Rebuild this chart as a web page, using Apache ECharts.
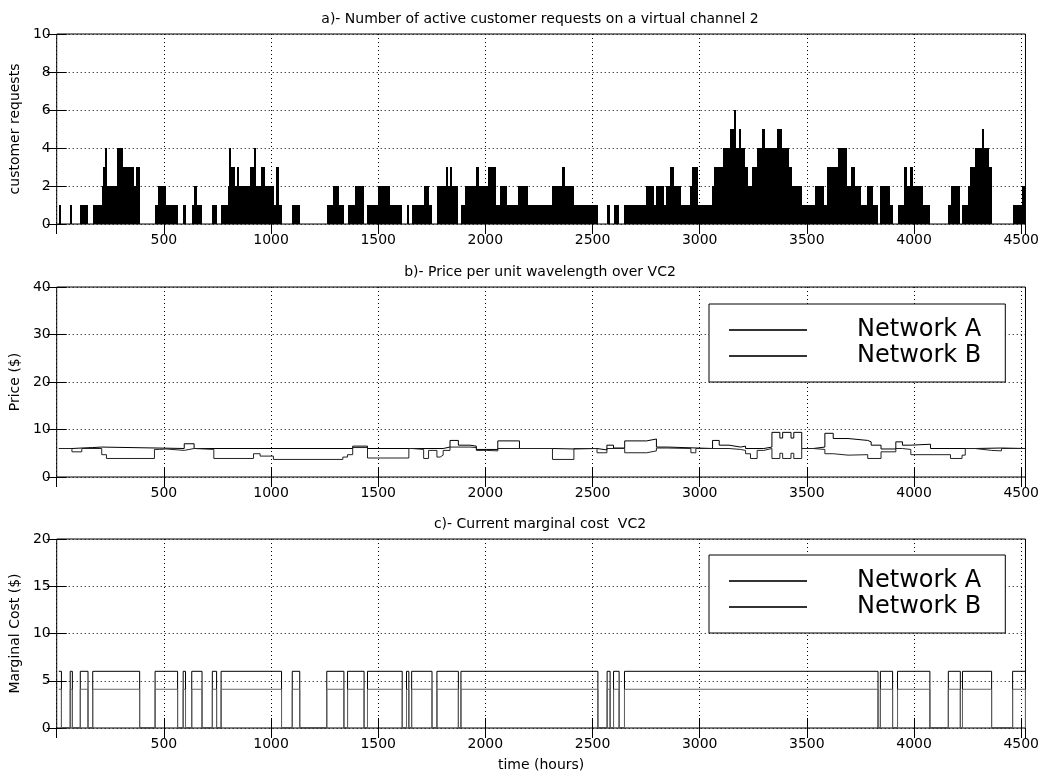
<!DOCTYPE html>
<html>
<head>
<meta charset="utf-8">
<script src="https://cdn.jsdelivr.net/npm/echarts@6/dist/echarts.min.js"></script>
<style>
  html, body { margin: 0; padding: 0; background: #fff; }
  #chart { width: 1042px; height: 773px; }
</style>
</head>
<body>
<div id="chart"></div>
<script>
// ---- data -------------------------------------------------------------
// time axis (hours)
const timeRange = [0, 4520];
const timeStep = 500;

// a) active customer requests on VC2: [hour at which the count changes, new count]
const requestSteps = [
  [10,1],[22,0],[63,1],[73,0],[110,1],[146,0],[168,1],[210,2],[218,3],[226,4],[236,2],[280,4],
  [307,3],[360,2],[369,3],[387,0],[459,1],[471,2],[510,1],[564,0],[590,1],[601,0],[630,1],[641,2],
  [656,1],[678,0],[726,1],[746,0],[767,1],[798,2],[806,4],[815,3],[831,2],[840,3],[852,2],[903,3],
  [921,4],[930,2],[954,3],[972,2],[1014,1],[1023,3],[1036,1],[1049,0],[1099,1],[1134,0],[1260,1],
  [1288,2],[1315,1],[1340,0],[1357,1],[1393,2],[1434,0],[1450,1],[1501,2],[1553,1],[1612,0],[1632,1],
  [1643,0],[1656,1],[1712,2],[1735,1],[1751,0],[1774,2],[1818,3],[1827,2],[1835,3],[1844,2],[1874,0],
  [1886,1],[1907,2],[1958,3],[1969,2],[2012,3],[2051,1],[2066,2],[2102,1],[2154,2],[2200,1],[2313,2],
  [2356,3],[2371,2],[2413,1],[2525,0],[2568,1],[2582,0],[2598,1],[2624,0],[2649,1],[2750,2],[2785,1],
  [2798,2],[2832,1],[2845,2],[2862,3],[2880,2],[2915,1],[2955,2],[2963,3],[2991,1],[3057,2],[3066,3],
  [3111,4],[3142,5],[3158,6],[3168,4],[3183,5],[3192,4],[3210,3],[3225,2],[3245,3],[3268,4],[3291,5],
  [3306,4],[3360,5],[3384,4],[3418,3],[3432,2],[3476,1],[3538,2],[3581,1],[3592,3],[3643,4],[3689,2],
  [3707,3],[3726,2],[3753,1],[3781,2],[3807,1],[3832,0],[3843,2],[3889,1],[3900,0],[3923,1],[3954,3],
  [3969,2],[3982,3],[3997,2],[4043,1],[4074,0],[4160,1],[4172,2],[4216,0],[4226,1],[4250,2],[4259,3],
  [4285,4],[4316,5],[4327,4],[4350,3],[4362,0],[4460,1],[4505,2],[4520,2]
];

// b) price per unit wavelength ($): [hour, new price]
const priceNetworkA = [
  [10,6.0],[71,6.1],[117,6.2],[168,6.3],[210,6.0],[595,7.0],[641,6.0],[1381,6.5],[1450,6.0],
  [1803,6.3],[1835,7.7],[1874,6.7],[1928,6.5],[1958,5.8],[2058,7.6],[2159,6.0],[2313,5.9],[2413,6.0],
  [2521,5.7],[2567,6.7],[2598,6.1],[2650,7.6],[2752,8.0],[2798,6.3],[2851,6.0],[3060,7.7],[3091,6.7],
  [3137,6.3],[3191,6.5],[3214,6.0],[3299,6.3],[3337,9.4],[3374,8.2],[3387,9.4],[3426,8.2],[3439,9.4],
  [3476,6.0],[3530,6.3],[3584,9.2],[3623,8.1],[3692,7.7],[3784,7.4],[3800,6.7],[3846,5.9],[3915,7.4],
  [3946,6.7],[3985,6.9],[4077,6.0],[4285,6.1],[4408,6.0],[4520,6.0]
];
const priceNetworkB = [
  [10,6.0],[71,5.3],[117,6.0],[210,4.7],[232,3.9],[456,5.8],[479,5.9],[510,5.6],[595,6.0],[641,5.8],
  [733,3.9],[918,4.9],[949,4.4],[1011,3.7],[1335,4.2],[1357,4.7],[1381,6.2],[1450,4.0],[1643,6.0],
  [1658,5.8],[1712,3.9],[1735,5.6],[1774,4.2],[1789,4.6],[1803,5.6],[1835,6.3],[1928,6.2],[1958,5.6],
  [2005,5.5],[2058,6.0],[2313,3.7],[2413,6.0],[2521,5.1],[2567,6.0],[2650,5.1],[2752,5.5],[2798,6.1],
  [2851,6.0],[2959,5.1],[2982,6.0],[3137,5.8],[3191,5.6],[3214,4.9],[3237,3.9],[3268,5.6],[3299,6.0],
  [3337,3.9],[3374,5.0],[3387,3.9],[3426,5.0],[3439,3.9],[3476,6.0],[3530,5.8],[3584,4.9],[3623,4.6],
  [3692,4.7],[3784,3.9],[3846,5.3],[3915,6.0],[3946,5.8],[3985,4.7],[4170,3.9],[4224,4.6],[4239,6.0],
  [4285,5.6],[4362,5.5],[4408,6.0],[4520,6.0]
];

// c) marginal cost: periods [from, to] (hours) during which VC2 carries traffic
const costPeriods = [
  [10,22],[63,73],[110,146],[168,387],[459,564],[590,601],[630,678],[726,746],[767,1049],[1099,1134],
  [1260,1340],[1357,1434],[1450,1612],[1632,1643],[1656,1751],[1774,1874],[1886,2525],[2568,2582],
  [2598,2624],[2649,3832],[3843,3900],[3923,4074],[4160,4216],[4226,4362],[4460,4520]
];
const costNetworkA = 6;   // $ while active
const costNetworkB = 4.1; // $ while active

const panelTitles = [
  'a)- Number of active customer requests on a virtual channel 2',
  'b)- Price per unit wavelength over VC2',
  'c)- Current marginal cost  VC2'
];
const yNames = ['customer requests', 'Price ($)', 'Marginal Cost ($)'];
const yScales = [[0, 10, 2], [0, 40, 10], [0, 20, 5]];
const seriesNames = ['Network A', 'Network B'];

// ---- helpers ----------------------------------------------------------
const FONT = 'DejaVu Sans';

function pulses(periods, level) {
  const pts = [];
  periods.forEach(([s, e]) => { pts.push([s, level]); pts.push([e, 0]); });
  return pts;
}

// [from, count, to] blocks for the request histogram
const requestBlocks = requestSteps.slice(0, -1).map(([t, v], i) => [t, v, requestSteps[i + 1][0]]);

const grids = [
  { left: 54, right: 13, top: 34, height: 190 },
  { left: 54, right: 13, top: 287, height: 190 },
  { left: 54, right: 13, top: 539, height: 189 }
].map(g => Object.assign(g, { show: true, borderColor: '#000', borderWidth: 1, backgroundColor: '#fff', containLabel: false }));

const tickStyle = { color: '#000', width: 1 };
const gridDots = { color: '#000', width: 1, type: [1, 3] };
const plain = v => String(v);

const xAxes = [];
const yAxes = [];
grids.forEach((g, i) => {
  xAxes.push({
    type: 'value', gridIndex: i, position: 'bottom',
    min: timeRange[0], max: timeRange[1], interval: timeStep,
    axisLine: { show: false },
    axisTick: { show: true, inside: true, length: 10, lineStyle: tickStyle },
    axisLabel: { show: true, margin: 9, color: '#000', fontSize: 14, fontFamily: FONT,
                 formatter: plain, showMinLabel: false, showMaxLabel: false },
    splitLine: { show: true, lineStyle: gridDots },
    name: i === 2 ? 'time (hours)' : '', nameLocation: 'middle', nameGap: 30,
    nameTextStyle: { color: '#000', fontSize: 14, fontFamily: FONT }
  });
  xAxes.push({
    type: 'value', gridIndex: i, position: 'top',
    min: timeRange[0], max: timeRange[1], interval: timeStep,
    axisLine: { show: false },
    axisTick: { show: true, inside: true, length: 10, lineStyle: tickStyle },
    axisLabel: { show: false },
    splitLine: { show: false }
  });
  const [mn, mx, step] = yScales[i];
  yAxes.push({
    type: 'value', gridIndex: i, position: 'left', min: mn, max: mx, interval: step,
    axisLine: { show: false },
    axisTick: { show: true, inside: true, length: 10, lineStyle: tickStyle },
    axisLabel: { color: '#000', fontSize: 14, fontFamily: FONT, margin: 6, formatter: plain },
    splitLine: { show: true, lineStyle: gridDots },
    name: yNames[i], nameLocation: 'middle', nameGap: 25,
    nameTextStyle: { color: '#000', fontSize: 14, fontFamily: FONT }
  });
  yAxes.push({
    type: 'value', gridIndex: i, position: 'right', min: mn, max: mx, interval: step,
    axisLine: { show: false },
    axisTick: { show: true, inside: true, length: 10, lineStyle: tickStyle },
    axisLabel: { show: false },
    splitLine: { show: false }
  });
});

const lineBase = { type: 'line', step: 'end', symbol: 'none', showSymbol: false, animation: false, silent: true };

// solid black block per constant-count interval, snapped to whole pixels
function renderRequestBlock(params, api) {
  const v = api.value(1);
  if (!v) return null;
  const top = api.coord([api.value(0), v]);
  const bottom = api.coord([api.value(2), 0]);
  const x0 = Math.round(top[0]);
  const x1 = Math.max(Math.round(bottom[0]), x0 + 1);
  const y0 = Math.round(top[1]);
  const y1 = Math.round(bottom[1]);
  return { type: 'rect', shape: { x: x0, y: y0, width: x1 - x0, height: y1 - y0 }, style: { fill: '#000' } };
}

const series = [
  {
    type: 'custom', name: 'requests', xAxisIndex: 0, yAxisIndex: 0, data: requestBlocks,
    encode: { x: [0, 2], y: 1 }, renderItem: renderRequestBlock, animation: false, silent: true
  },
  Object.assign({}, lineBase, {
    name: seriesNames[0], xAxisIndex: 2, yAxisIndex: 2, data: priceNetworkA,
    lineStyle: { color: '#000', width: 1 }, itemStyle: { color: '#000' }
  }),
  Object.assign({}, lineBase, {
    name: seriesNames[1], xAxisIndex: 2, yAxisIndex: 2, data: priceNetworkB,
    lineStyle: { color: '#222', width: 1 }, itemStyle: { color: '#222' }
  }),
  Object.assign({}, lineBase, {
    name: seriesNames[0], xAxisIndex: 4, yAxisIndex: 4, data: pulses(costPeriods, costNetworkA),
    lineStyle: { color: '#000', width: 1 }, itemStyle: { color: '#000' }
  }),
  Object.assign({}, lineBase, {
    name: seriesNames[1], xAxisIndex: 4, yAxisIndex: 4, data: pulses(costPeriods, costNetworkB),
    lineStyle: { color: '#666', width: 1 }, itemStyle: { color: '#666' }
  })
];

function legendAt(top) {
  return {
    data: seriesNames, orient: 'vertical', left: 709, top: top,
    padding: [13, 24, 13, 20], itemGap: 0, itemWidth: 78, itemHeight: 2, icon: 'rect',
    borderColor: '#000', borderWidth: 1, backgroundColor: '#fff', borderRadius: 0,
    selectedMode: false, z: 10,
    itemStyle: { color: '#333' },
    textStyle: { color: '#000', fontSize: 24, fontFamily: FONT, lineHeight: 26, padding: [0, 0, 0, 45] }
  };
}

const titleText = panelTitles.map((t, i) => ({
  type: 'text', x: 540, y: grids[i].top - 15, z: 20,
  style: { text: t, align: 'center', verticalAlign: 'middle', fill: '#000', fontSize: 14, fontFamily: FONT }
}));

const chart = echarts.init(document.getElementById('chart'), null, { renderer: 'canvas' });
chart.setOption({
  backgroundColor: '#fff',
  animation: false,
  grid: grids,
  xAxis: xAxes,
  yAxis: yAxes,
  legend: [legendAt(304), legendAt(555)],
  graphic: titleText,
  series: series
});
</script>
</body>
</html>
